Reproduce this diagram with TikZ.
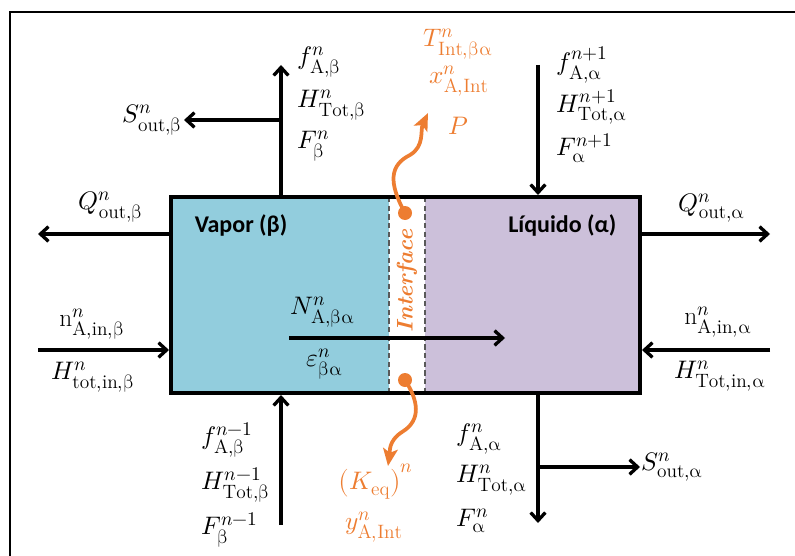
\documentclass[tikz,border=0pt]{standalone}
\usepackage{unicode-math}
\newfontfamily\calibri{Carlito}
\usetikzlibrary{arrows.meta,positioning,calc,fit}
\DeclareMathSizes{19}{19}{14.5}{11}
\definecolor{vapfill}{RGB}{146,205,221}
\definecolor{liqfill}{RGB}{204,192,218}
\definecolor{intf}{RGB}{237,125,49}
\newcommand{\gb}{\symup{\beta}}
\newcommand{\ga}{\symup{\alpha}}
\newcommand{\sub}[1]{\mathrm{#1}}

\begin{document}
\begin{tikzpicture}[
  x=0.75pt, y=-0.75pt,
  >={Straight Barb[length=6pt,width=11pt]},
  font=\fontsize{19}{22}\selectfont,
  flow/.style={->, line width=2.5pt},
  frame/.style={line width=2.2pt},
  wave/.style={draw=intf, line width=2.8pt, -{Stealth[length=13pt,width=11pt,inset=3pt]}},
  dot/.style={circle, fill=intf, inner sep=0pt, minimum size=10.5pt},
  lbl/.style={inner sep=1pt},
  olbl/.style={inner sep=1pt, text=intf},
  phase/.style={font=\calibri\bfseries\fontsize{18}{21}\selectfont}
]
  \useasboundingbox (0,0) rectangle (795,556);
  \def\xl{171} \def\xv{389} \def\xq{425} \def\xr{640}
  \def\yt{197} \def\yb{393}
  \draw[frame] (10,556) -- (10,12) -- (795,12);
  % phases
  \fill[vapfill] (\xl,\yt) rectangle (\xv,\yb);
  \fill[liqfill] (\xq,\yt) rectangle (\xr,\yb);
  \draw[dash pattern=on 4pt off 2.5pt, gray!70!black, line width=0.8pt]
     (\xv,\yt) -- (\xv,\yb) (\xq,\yt) -- (\xq,\yb);
  \coordinate (nw) at (\xl,\yt); \coordinate (se) at (\xr,\yb);
  \node[fit=(nw)(se), inner sep=0pt, draw, line width=3pt] (box) {};
  \node[phase] (vlab) at (241,226) {Vapor (β)};
  \node[phase, anchor=east] (llab) at (621,225) {Líquido (α)};
  \node[olbl, rotate=90, font=\bfseries\itshape\fontsize{17}{20}\selectfont] (itxt) at (407,281) {Interface};
  % vapor out (top)
  \coordinate (tlt) at (281,65);
  \draw[flow] (box.north -| tlt) -- (tlt);
  \node[lbl, anchor=east] (Sob) at (184,120) {$S^{n}_{\sub{out},\gb}$};
  \coordinate (tlj) at (281,120);
  \draw[flow] (tlj) -- (Sob);
  \node[lbl, anchor=west] (fAb) at (296,62) {$f^{n}_{\sub{A},\gb}$};
  \node[lbl, anchor=west] (HTb) at (296,105) {$H^{n}_{\sub{Tot},\gb}$};
  \node[lbl, anchor=west] (Fb) at (296,146) {$F^{n}_{\gb}$};
  % liquid in (top)
  \coordinate (trt) at (538,65);
  \draw[flow] (trt) -- (box.north -| trt);
  \node[lbl, anchor=west] (fAa1) at (555,65) {$f^{n+1}_{\sub{A},\ga}$};
  \node[lbl, anchor=west] (HTa1) at (555,107) {$H^{n+1}_{\sub{Tot},\ga}$};
  \node[lbl, anchor=west] (Fa1) at (555,148) {$F^{n+1}_{\ga}$};
  % heat
  \coordinate (qob) at (38,234);
  \draw[flow] (box.west |- qob) -- (qob);
  \node[lbl] (Qob) at (111,207) {$Q^{n}_{\sub{out},\gb}$};
  \coordinate (qoa) at (770,234);
  \draw[flow] (box.east |- qoa) -- (qoa);
  \node[lbl] (Qoa) at (712,208) {$Q^{n}_{\sub{out},\ga}$};
  % feeds
  \coordinate (nib) at (38,350);
  \draw[flow] (nib) -- (box.west |- nib);
  \node[lbl] (nAb) at (92,324) {$\mathrm{n}^{n}_{\sub{A},\sub{in},\gb}$};
  \node[lbl] (Hib) at (93,377) {$H^{n}_{\sub{tot},\sub{in},\gb}$};
  \coordinate (nia) at (770,350);
  \draw[flow] (nia) -- (box.east |- nia);
  \node[lbl] (nAa) at (718,322) {$\mathrm{n}^{n}_{\sub{A},\sub{in},\ga}$};
  \node[lbl] (Hia) at (720,376) {$H^{n}_{\sub{Tot},\sub{in},\ga}$};
  % transfer
  \coordinate (Nb) at (289,338); \coordinate (Na) at (505,338);
  \draw[flow] (Nb) -- (Na);
  \node[lbl] (NAba) at (323,312) {$N^{n}_{\sub{A},\gb\ga}$};
  \node[lbl] (eba) at (325,364) {$\varepsilon^{n}_{\gb\ga}$};
  % vapor in (bottom)
  \coordinate (blb) at (281,525);
  \draw[flow] (blb) -- (box.south -| blb);
  \node[lbl, anchor=west] (fAb0) at (200,440) {$f^{n-1}_{\sub{A},\gb}$};
  \node[lbl, anchor=west] (HTb0) at (200,485) {$H^{n-1}_{\sub{Tot},\gb}$};
  \node[lbl, anchor=west] (Fb0) at (200,530) {$F^{n-1}_{\gb}$};
  % liquid out (bottom)
  \coordinate (brb) at (538,523);
  \draw[flow] (box.south -| brb) -- (brb);
  \coordinate (brj) at (538,467);
  \node[lbl, anchor=west] (Soa) at (640,467) {$S^{n}_{\sub{out},\ga}$};
  \draw[flow] (brj) -- (brj -| Soa.west);
  \node[lbl, anchor=west] (fAa) at (455,439) {$f^{n}_{\sub{A},\ga}$};
  \node[lbl, anchor=west] (HTa) at (455,480) {$H^{n}_{\sub{Tot},\ga}$};
  \node[lbl, anchor=west] (Fa) at (455,521) {$F^{n}_{\ga}$};
  % interface
  \node[dot] (dtop) at (405,213) {};
  \node[dot] (dbot) at (405,380) {};
  \coordinate (wtop) at (428,113);
  \coordinate (wbot) at (388,466);
  \draw[wave] (dtop.center) .. controls (388,182) and (390,165) .. (410,155)
     .. controls (425,146) and (420,130) .. (wtop);
  \draw[wave] (dbot.center) .. controls (418,400) and (422,420) .. (402,432)
     .. controls (388,441) and (390,452) .. (wbot);
  \node[olbl] (Tint) at (458,44) {$T^{n}_{\sub{Int},\gb\ga}$};
  \node[olbl] (xint) at (459,81) {$x^{n}_{\sub{A},\sub{Int}}$};
  \node[olbl] (Pint) at (458,126) {$P$};
  \node[olbl] (Keq) at (376,482) {$\bigl(K_{\sub{eq}}\bigr)^{n}$};
  \node[olbl] (yint) at (374,527) {$y^{n}_{\sub{A},\sub{Int}}$};
\end{tikzpicture}
\end{document}
